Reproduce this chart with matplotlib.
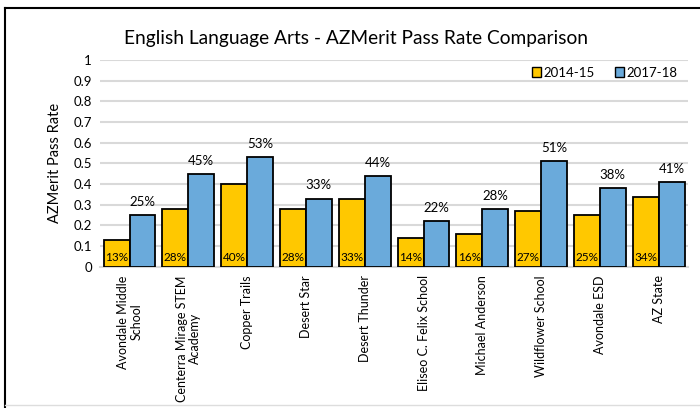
import matplotlib
matplotlib.use('Agg')

import matplotlib.pyplot as plt
from matplotlib.lines import Line2D
import numpy as np

# Datos
schools = ['Avondale Middle\nSchool', 'Centerra Mirage STEM\nAcademy', 'Copper Trails',
           'Desert Star', 'Desert Thunder', 'Eliseo C. Felix School',
           'Michael Anderson', 'Wildflower School', 'Avondale ESD', 'AZ State']
rate_1415 = [0.13, 0.28, 0.40, 0.28, 0.33, 0.14, 0.16, 0.27, 0.25, 0.34]
rate_1718 = [0.25, 0.45, 0.53, 0.33, 0.44, 0.22, 0.28, 0.51, 0.38, 0.41]
series = ['2014-15', '2017-18']
yticks = [0, 0.1, 0.2, 0.3, 0.4, 0.5, 0.6, 0.7, 0.8, 0.9, 1]

YELLOW = '#FFC800'
BLUE = '#6AAADB'

plt.rcParams['font.family'] = ['Lato', 'DejaVu Sans']

fig = plt.figure(figsize=(7, 4.08), dpi=100)
ax = fig.add_axes([0.143, 0.346, 0.84, 0.507])

x = np.arange(len(schools))
w = 0.44
b1 = ax.bar(x - w/2, rate_1415, w, color=YELLOW, edgecolor='black', linewidth=1.3, label=series[0], zorder=3)
b2 = ax.bar(x + w/2, rate_1718, w, color=BLUE, edgecolor='black', linewidth=1.3, label=series[1], zorder=3)

# Etiquetas de valores
for bar, v in zip(b1, rate_1415):
    ax.text(bar.get_x() + bar.get_width()/2, 0.045, f'{round(v*100)}%',
            ha='center', va='center', fontsize=8.5, zorder=4)
for bar, v in zip(b2, rate_1718):
    ax.text(bar.get_x() + bar.get_width()/2, v + 0.035, f'{round(v*100)}%',
            ha='center', va='bottom', fontsize=9.5, zorder=4)

ax.set_xlim(-0.5, len(schools) - 0.5)
ax.set_ylim(0, 1)
ax.set_yticks(yticks)
ax.set_yticklabels([f'{t:g}' for t in yticks], fontsize=9.5)
ax.set_xticks(x)
ax.set_xticklabels(schools, rotation=90, fontsize=9, va='top', ha='center',
                   multialignment='center', linespacing=1.15)
ax.tick_params(length=0, pad=6)
ax.set_ylabel('AZMerit Pass Rate', fontsize=10.5, labelpad=8)
ax.grid(axis='y', color='#d9d9d9', linewidth=1.5, zorder=0)
for s in ['top', 'right', 'left']:
    ax.spines[s].set_visible(False)
ax.spines['bottom'].set_color('#d9d9d9')
ax.spines['bottom'].set_linewidth(1.5)

fig.text(0.508, 0.905, 'English Language Arts - AZMerit Pass Rate Comparison',
         ha='center', va='center', fontsize=13.8)

handles = [plt.Rectangle((0, 0), 1, 1, facecolor=YELLOW, edgecolor='black', linewidth=1),
           plt.Rectangle((0, 0), 1, 1, facecolor=BLUE, edgecolor='black', linewidth=1)]
fig.legend(handles, series, loc='center right', bbox_to_anchor=(0.985, 0.822),
           ncol=2, frameon=False, fontsize=9.5, handlelength=0.7, handleheight=0.7,
           handletextpad=0.2, columnspacing=1.5)

# Marco
fig.add_artist(Line2D([5/700, 1], [1 - 8/408, 1 - 8/408], color='black', linewidth=1.5))
fig.add_artist(Line2D([5/700, 5/700], [0, 1 - 8/408], color='black', linewidth=1.5))
fig.add_artist(Line2D([5/700, 1], [3/408, 3/408], color='#dddddd', linewidth=1))

plt.savefig('out.png', dpi=100)
plt.close(fig)
